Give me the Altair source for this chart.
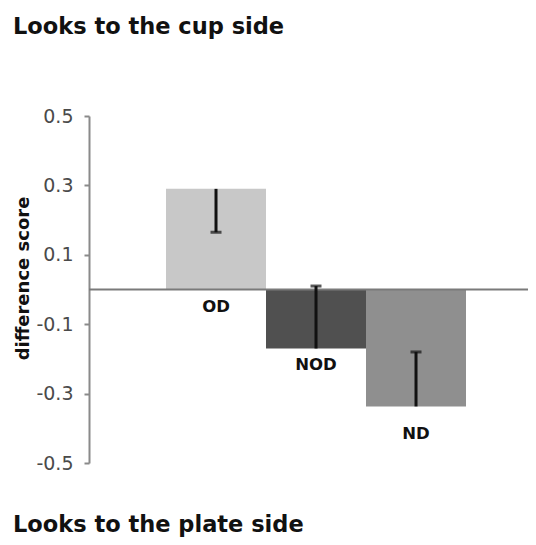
import altair as alt
import pandas as pd

categories = ["OD", "NOD", "ND"]
means = [0.29, -0.17, -0.337]
errors = [0.125, 0.18, 0.157]
colors = ["#c8c8c8", "#505050", "#8f8f8f"]
y_ticks = [0.5, 0.3, 0.1, -0.1, -0.3, -0.5]
title_top = "Looks to the cup side"
title_bottom = "Looks to the plate side"
y_title = "difference score"

df = pd.DataFrame({
    "cat": categories,
    "mean": means,
    "se": errors,
    "color": colors,
})
df["err_end"] = [m - se if m > 0 else m + se for m, se in zip(means, errors)]
df["label_y"] = [min(m, 0) for m in means]

W, H = 439, 347
FONT = "DejaVu Sans"

xscale = alt.Scale(domain=categories, paddingInner=0, paddingOuter=0.695, align=0.554)
yscale = alt.Scale(domain=[-0.5, 0.5], nice=False, zero=False)

base = alt.Chart(df)

bars = base.mark_bar().encode(
    x=alt.X("cat:N", scale=xscale, axis=None, sort=categories),
    y=alt.Y("mean:Q", scale=yscale,
            axis=alt.Axis(values=y_ticks, title=y_title,
                          labelExpr="datum.value < 0 ? '-' + format(-datum.value, '.1f') : format(datum.value, '.1f')",
                          grid=False, domainColor="#8a8a8a", domainWidth=2,
                          tickColor="#8a8a8a", tickWidth=2, tickSize=5,
                          labelPadding=11, labelFontSize=19, labelFont=FONT,
                          labelColor="#4a4a4a",
                          titleFont=FONT, titleFontSize=18, titleFontWeight="bold",
                          titleColor="#111111", titleX=-66, titleY=162,
                          titleAngle=270, titleBaseline="middle", titleAlign="center")),
    y2=alt.datum(0),
    color=alt.Color("color:N", scale=None),
)

zero = alt.Chart(pd.DataFrame({"z": [0]})).mark_rule(color="#7a7a7a", strokeWidth=2).encode(
    y=alt.Y("z:Q", scale=yscale),
    x=alt.value(0), x2=alt.value(W),
)

err = base.mark_rule(color="#111111", strokeWidth=3).encode(
    x=alt.X("cat:N", scale=xscale, sort=categories),
    y=alt.Y("mean:Q", scale=yscale),
    y2="err_end:Q",
)

caps = base.mark_tick(color="#111111", thickness=3, size=11, orient="horizontal").encode(
    x=alt.X("cat:N", scale=xscale, sort=categories),
    y=alt.Y("err_end:Q", scale=yscale),
)

labels_a = base.transform_filter(alt.datum.cat != "ND").mark_text(
    font=FONT, fontSize=16.5, fontWeight="bold", color="#111111", dy=17, baseline="middle"
).encode(
    x=alt.X("cat:N", scale=xscale, sort=categories),
    y=alt.Y("label_y:Q", scale=yscale),
    text="cat:N",
)
labels_b = base.transform_filter(alt.datum.cat == "ND").mark_text(
    font=FONT, fontSize=16.5, fontWeight="bold", color="#111111", dy=28, baseline="middle"
).encode(
    x=alt.X("cat:N", scale=xscale, sort=categories),
    y=alt.Y("label_y:Q", scale=yscale),
    text="cat:N",
)

tdf = pd.DataFrame({"t": [title_top, title_bottom], "py": [-82, 416]})
titles = alt.Chart(tdf).mark_text(
    font=FONT, fontSize=22.5, fontWeight="bold", color="#111111",
    align="left", baseline="alphabetic"
).encode(
    x=alt.value(-76),
    y=alt.Y("py:Q", scale=None),
    text="t:N",
)

chart = alt.layer(bars, zero, err, caps, labels_a, labels_b, titles).properties(
    width=W, height=H,
    autosize=alt.AutoSizeParams(type="none"),
    padding={"left": 81, "top": 108, "right": 0, "bottom": 74},
).configure_view(stroke=None)

chart.save("out.html", embed_options={"renderer": "svg", "actions": False})
